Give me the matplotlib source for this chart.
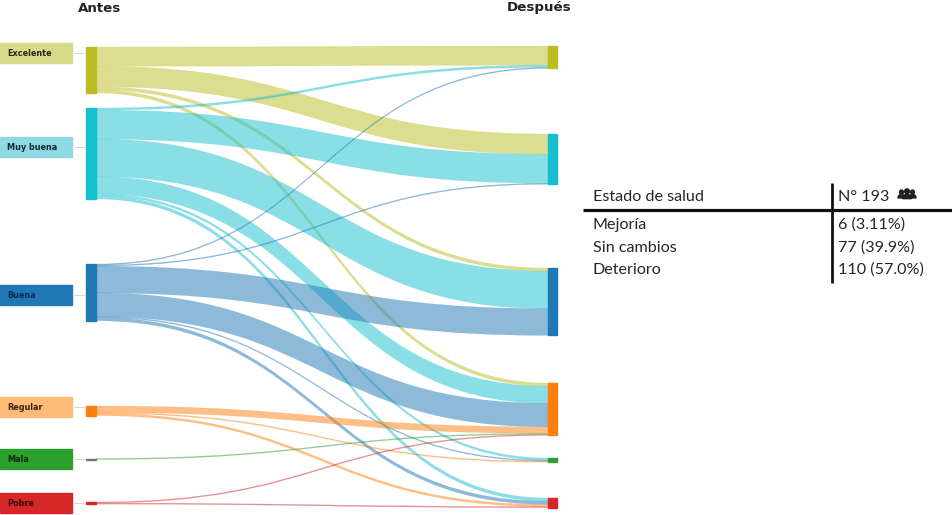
import matplotlib.pyplot as plt
from matplotlib.path import Path
from matplotlib.patches import PathPatch, Rectangle, Circle, Wedge

# Estado de salud antes / despues (n = 193)
categories = ['Excelente', 'Muy buena', 'Buena', 'Regular', 'Mala', 'Pobre']
# rows = antes, columns = despues
flows = [
    [18, 19, 3, 3, 0, 0],
    [2, 27, 35, 16, 2, 3],
    [1, 1, 25, 22, 1, 3],
    [0, 0, 0, 6, 1, 2],
    [0, 0, 0, 1, 0, 0],
    [0, 0, 0, 1, 0, 1],
]
table_rows = ['Mejoría', 'Sin cambios', 'Deterioro']

node_colors = ['#bcbd22', '#17becf', '#1f77b4', '#ff7f0e', '#2ca02c', '#d62728']
box_colors = ['#d9d98a', '#8fd8e4', '#1f77b4', '#ffbb78', '#2ca02c', '#d62728']
text_colors = ['#2a2a10', '#0e2a33', '#0b2d5c', '#3a2410', '#0c2a0c', '#3a0808']
mala_left_color = '#6a7a6a'

# layout (pixels)
scale = 1.07
left_tops = [47, 108, 264, 406, 458.5, 502]
right_tops = [46, 134, 268, 383, 458, 498]
label_y = [53, 147, 295, 407, 459, 503]
xl0, xl1 = 86, 96
xr0, xr1 = 548, 557

n = len(categories)
out_tot = [sum(r) for r in flows]
in_tot = [sum(flows[i][j] for i in range(n)) for j in range(n)]

fig = plt.figure(figsize=(9.52, 5.15), dpi=100)
ax = fig.add_axes([0, 0, 1, 1])
ax.set_xlim(0, 952)
ax.set_ylim(515, 0)
ax.axis('off')


def ribbon(y0a, y0b, y1a, y1b, color):
    xm = (xl1 + xr0) / 2
    verts = [(xl1, y0a), (xm, y0a), (xm, y1a), (xr0, y1a),
             (xr0, y1b), (xm, y1b), (xm, y0b), (xl1, y0b), (xl1, y0a)]
    codes = [Path.MOVETO, Path.CURVE4, Path.CURVE4, Path.CURVE4,
             Path.LINETO, Path.CURVE4, Path.CURVE4, Path.CURVE4, Path.CLOSEPOLY]
    ax.add_patch(PathPatch(Path(verts, codes), facecolor=color, edgecolor=color,
                           lw=0.15, alpha=0.5, zorder=1))


# ribbons
in_offset = [0.0] * n
for i in range(n):
    off = 0.0
    for j in range(n):
        v = flows[i][j]
        if v == 0:
            continue
        y0a = left_tops[i] + off * scale
        y0b = y0a + v * scale
        y1a = right_tops[j] + in_offset[j] * scale
        y1b = y1a + v * scale
        ribbon(y0a, y0b, y1a, y1b, node_colors[i])
        off += v
        in_offset[j] += v

# nodes
for i in range(n):
    c = mala_left_color if categories[i] == 'Mala' else node_colors[i]
    ax.add_patch(Rectangle((xl0, left_tops[i]), xl1 - xl0, max(out_tot[i] * scale, 1.2),
                           color=c, zorder=3))
    ax.add_patch(Rectangle((xr0, right_tops[i]), xr1 - xr0, in_tot[i] * scale,
                           color=node_colors[i], zorder=3))

# left label boxes
for i, cat in enumerate(categories):
    ax.add_patch(Rectangle((0, label_y[i] - 10), 72, 20, color=box_colors[i], zorder=2))
    ax.text(7, label_y[i], cat, fontsize=5.9, fontweight='bold', color=text_colors[i],
            ha='left', va='center', zorder=4)
    ax.plot([74, 84], [label_y[i], label_y[i]], color='#d0d0d0', lw=0.6, zorder=2)

ax.text(100, 9, 'Antes', fontsize=9.6, fontweight='bold', ha='center', va='center', color='#222222')
ax.text(539, 8, 'Después', fontsize=9.6, fontweight='bold', ha='center', va='center', color='#222222')

# summary table
total = sum(out_tot)
improve = sum(flows[i][j] for i in range(n) for j in range(n) if j < i)
same = sum(flows[i][i] for i in range(n))
worse = sum(flows[i][j] for i in range(n) for j in range(n) if j > i)
counts = [improve, same, worse]

tf = dict(fontsize=11.6, family='Lato', color='#262626', va='center')
ax.text(593, 197, 'Estado de salud', ha='left', **tf)
ax.text(838, 197, f'N° {total}', ha='left', **tf)
for k, (lab, c) in enumerate(zip(table_rows, counts)):
    yy = 225 + k * 22.5
    ax.text(593, yy, lab, ha='left', **tf)
    ax.text(838, yy, f'{c} ({100 * c / total:#.3g}%)', ha='left', **tf)
ax.plot([583, 952], [209.5, 209.5], color='#111111', lw=2.3, solid_capstyle='butt')
ax.plot([832, 832], [183, 283], color='#111111', lw=2.0, solid_capstyle='butt')

# little people icon
for dx, s in [(-5.5, 0.85), (5.5, 0.85), (0, 1.05)]:
    cx, cy = 907 + dx, 195
    ax.add_patch(Circle((cx, cy - 3.5 * s), 2.3 * s, color='#222222', zorder=5))
    ax.add_patch(Wedge((cx, cy + 3.5 * s), 4.2 * s, 180, 360, color='#222222', zorder=5))

fig.savefig('out.png', dpi=100)
